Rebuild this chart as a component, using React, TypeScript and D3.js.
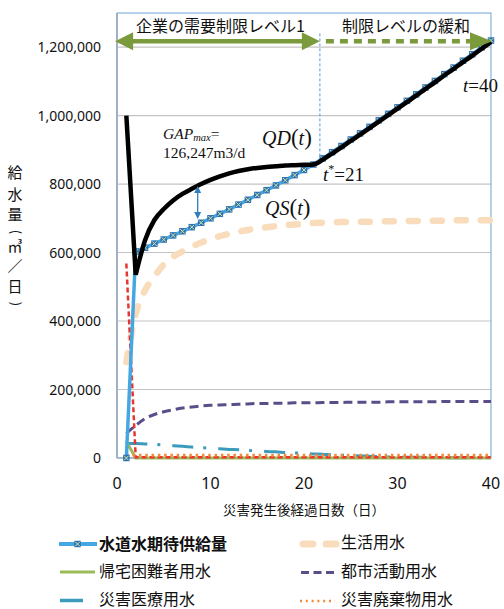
import React from "react";
import * as d3 from "d3";

// Elapsed days after the disaster (one value per day for every series)
const days = d3.range(1, 41);

// 水道水期待供給量 QS(t) [m3/day]
const expectedSupply = [
  0, 603000, 614000, 626000, 638000, 650000, 662000, 674000, 687000, 700000,
  713000, 726000, 740000, 754000, 768000, 782000, 796000, 811000, 826000, 841000,
  857000, 875000, 893000, 911000, 930000, 948000, 967000, 986000, 1005000, 1024000,
  1043000, 1062000, 1082000, 1101000, 1121000, 1140000, 1160000, 1179000, 1199000, 1219000,
];

// 需要量 QD(t) [m3/day]
const demand = [
  1000000, 535000, 636000, 695000, 727000, 752000, 771000, 786000, 800000, 812000,
  822000, 831000, 838000, 843000, 847000, 850000, 852000, 854000, 855000, 856000,
  857000, 871000, 889000, 907000, 926000, 944000, 963000, 982000, 1001000, 1020000,
  1039000, 1058000, 1078000, 1097000, 1117000, 1136000, 1156000, 1175000, 1195000, 1215000,
];

// 生活用水
const domesticUse = [
  280000, 420000, 490000, 530000, 565000, 588000, 603000, 617000, 629000, 640000,
  648000, 655000, 661000, 666000, 670000, 674000, 677000, 680000, 682000, 684000,
  686000, 687000, 688000, 689000, 689000, 690000, 690000, 691000, 691000, 692000,
  692000, 692000, 693000, 693000, 693000, 694000, 694000, 694000, 694000, 694000,
];

// 帰宅困難者用水
const strandedUse = [
  48000, 0, 0, 0, 0, 0, 0, 0, 0, 0,
  0, 0, 0, 0, 0, 0, 0, 0, 0, 0,
  0, 0, 0, 0, 0, 0, 0, 0, 0, 0,
  0, 0, 0, 0, 0, 0, 0, 0, 0, 0,
];

// 都市活動用水
const urbanUse = [
  72000, 95000, 115000, 127000, 135000, 141000, 146000, 149000, 152000, 154000,
  155000, 156000, 157000, 158000, 159000, 159000, 160000, 160000, 161000, 161000,
  161000, 162000, 162000, 162000, 163000, 163000, 163000, 163000, 164000, 164000,
  164000, 164000, 164000, 164000, 165000, 165000, 165000, 165000, 165000, 165000,
];

// 災害医療用水
const medicalUse = [
  42000, 42000, 41000, 40000, 38000, 36000, 34000, 32000, 30000, 29000,
  27000, 25000, 24000, 22000, 21000, 19000, 18000, 16000, 15000, 13000,
  12000, 11000, 9000, 8000, 7000, 6000, 5000, 4000, 3000, 3000,
  2000, 2000, 2000, 1000, 1000, 1000, 1000, 1000, 1000, 1000,
];

// 災害廃棄物用水
const debrisUse = [
  8000, 8000, 8000, 8000, 8000, 8000, 8000, 8000, 8000, 8000,
  8000, 8000, 8000, 8000, 8000, 8000, 8000, 8000, 8000, 8000,
  8000, 8000, 8000, 8000, 8000, 8000, 8000, 8000, 8000, 8000,
  8000, 8000, 8000, 8000, 8000, 8000, 8000, 8000, 8000, 8000,
];

// 初期の応急需要
const initialDemand = [
  568000, 2000, 2000, 2000, 2000, 2000, 2000, 2000, 2000, 2000,
  2000, 2000, 2000, 2000, 2000, 2000, 2000, 2000, 2000, 2000,
  2000, 2000, 2000, 2000, 2000, 2000, 2000, 2000, 2000, 2000,
  2000, 2000, 2000, 2000, 2000, 2000, 2000, 2000, 2000, 2000,
];

const yTicks = [0, 200000, 400000, 600000, 800000, 1000000, 1200000];
const xTicks = [0, 10, 20, 30, 40];

// Vertical axis title, one glyph per row; brackets are turned sideways
const yTitleChars = [
  { c: "給", y: 173, turn: false },
  { c: "水", y: 195, turn: false },
  { c: "量", y: 215, turn: false },
  { c: "(", y: 232, turn: true },
  { c: "㎥", y: 247, turn: false },
  { c: "／", y: 267, turn: false },
  { c: "日", y: 287, turn: false },
  { c: ")", y: 304, turn: true },
];
const xTitle = "災害発生後経過日数（日）";
const phase1Label = "企業の需要制限レベル1";
const phase2Label = "制限レベルの緩和";

// Annotation anchors in data units
const tStar = 21.7;
const arrowLevel = 1217000;
const gapDay = 8.63;
const gapTop = 794000;
const gapBottom = 698000;

const COLORS = {
  supply: "#45a7e2",
  marker: "#2f72b4",
  markerX: "#d6e7a0",
  demand: "#000000",
  domestic: "#f9dcbc",
  stranded: "#9bbb59",
  urban: "#5a4e8a",
  medical: "#3b9bbd",
  debris: "#f38a3a",
  initial: "#e8352f",
  olive: "#7b9a3c",
  gapArrow: "#2f7ebd",
};

const SERIF = "'Liberation Serif', 'Times New Roman', serif";
const SANS = "'Noto Sans', 'Noto Sans CJK JP', sans-serif";
const JP = "'Noto Sans CJK JP', 'Noto Sans', sans-serif";

export default function App() {
  const W = 504;
  const H = 609;
  const x = d3.scaleLinear().domain([0, 40]).range([117, 491]);
  const y = d3.scaleLinear().domain([0, 1300000]).range([458, 12.8]);
  const plotTop = 13;

  const mkLine = (curve: d3.CurveFactory, offset = 0) =>
    d3
      .line<number>()
      .x((_, i) => x(days[i + offset]))
      .y((d) => y(d))
      .curve(curve);

  const linear = mkLine(d3.curveLinear);
  const smooth = mkLine(d3.curveMonotoneX);

  // demand: sharp drop from day 1 to day 2, smooth recovery afterwards
  const demandPath =
    (mkLine(d3.curveLinear)(demand.slice(0, 2)) || "") +
    (mkLine(d3.curveMonotoneX, 1)(demand.slice(1)) || "").replace(/^M/, "L");

  const yA = y(arrowLevel);
  const xL = x(-0.2);
  const xM = x(tStar);
  const xR = x(40);
  const headLen = 18;
  const headHalf = 9;

  const marker = (cx: number, cy: number, key: string | number, s = 6.5) => (
    <g key={key}>
      <rect x={cx - s / 2} y={cy - s / 2} width={s} height={s} fill={COLORS.marker} />
      <line x1={cx - s / 2 + 1} y1={cy - s / 2 + 1} x2={cx + s / 2 - 1} y2={cy + s / 2 - 1} stroke={COLORS.markerX} strokeWidth={1} />
      <line x1={cx - s / 2 + 1} y1={cy + s / 2 - 1} x2={cx + s / 2 - 1} y2={cy - s / 2 + 1} stroke={COLORS.markerX} strokeWidth={1} />
    </g>
  );

  const gx = x(gapDay);
  const gy1 = y(gapTop);
  const gy2 = y(gapBottom);

  return (
    <svg
      width={W}
      height={H}
      viewBox={`0 0 ${W} ${H}`}
      style={{ position: "absolute", left: 0, top: 0, background: "#fff" }}
    >
      {/* gridlines */}
      {yTicks.filter((t) => t > 0).map((t) => (
        <line key={t} x1={x(0)} x2={x(40)} y1={y(t)} y2={y(t)} stroke="#c4c4c4" strokeWidth={1.2} />
      ))}

      {/* plot frame */}
      <rect x={x(0)} y={plotTop} width={x(40) - x(0)} height={y(0) - plotTop} fill="none" stroke="#6fa3d6" strokeWidth={1} />
      <line x1={x(0)} x2={x(0)} y1={plotTop} y2={y(0)} stroke="#9fb0c2" strokeWidth={2} />
      <line x1={x(0)} x2={x(40)} y1={y(0)} y2={y(0)} stroke="#9fb0c2" strokeWidth={1.5} />

      {/* y tick labels */}
      {yTicks.map((t) => (
        <text key={t} x={101} y={y(t)} dy="0.36em" textAnchor="end" fontFamily={SANS} fontSize={14} fill="#111">
          {d3.format(",")(t)}
        </text>
      ))}

      {/* x tick labels */}
      {xTicks.map((t) => (
        <text key={t} x={x(t)} y={489} textAnchor="middle" fontFamily={SANS} fontSize={16} fill="#111">
          {t}
        </text>
      ))}

      {/* axis titles */}
      <text x={(x(0) + x(40)) / 2} y={515} textAnchor="middle" fontFamily={JP} fontSize={13.5} fill="#111">
        {xTitle}
      </text>
      {yTitleChars.map((g, i) => (
        <text
          key={i}
          x={15}
          y={g.y}
          dy={g.turn ? "0.3em" : "0.36em"}
          textAnchor="middle"
          fontFamily={JP}
          fontSize={g.turn ? 13 : 15}
          fill="#111"
          transform={g.turn ? `rotate(90 15 ${g.y})` : undefined}
        >
          {g.c}
        </text>
      ))}

      {/* series */}
      <path d={smooth(domesticUse) || ""} fill="none" stroke={COLORS.domestic} strokeWidth={6.5} strokeDasharray="9 15" strokeLinecap="round" />
      <path d={smooth(urbanUse) || ""} fill="none" stroke={COLORS.urban} strokeWidth={3} strokeDasharray="9 5" />
      <path d={smooth(medicalUse) || ""} fill="none" stroke={COLORS.medical} strokeWidth={3} strokeDasharray="21 10 3 12" />
      <path d={linear(strandedUse) || ""} fill="none" stroke={COLORS.stranded} strokeWidth={3} />
      <path d={linear(initialDemand) || ""} fill="none" stroke={COLORS.initial} strokeWidth={2.5} strokeDasharray="5 3" />
      <path d={linear(debrisUse) || ""} fill="none" stroke={COLORS.debris} strokeWidth={3} strokeDasharray="2.5 3.8" />
      <path d={linear(expectedSupply) || ""} fill="none" stroke={COLORS.supply} strokeWidth={3.5} />
      {expectedSupply.map((v, i) => marker(x(days[i]), y(v), i))}
      <path d={demandPath} fill="none" stroke={COLORS.demand} strokeWidth={4.5} strokeLinejoin="miter" />

      {/* t* marker line */}
      <line x1={xM} x2={xM} y1={y(1240000)} y2={y(878000)} stroke="#5b9bd5" strokeWidth={1} strokeDasharray="3 2" />

      {/* phase arrows */}
      <line x1={xL + headLen - 1} x2={xM - headLen + 1} y1={yA} y2={yA} stroke={COLORS.olive} strokeWidth={4.5} />
      <path d={`M${xL},${yA} L${xL + headLen},${yA - headHalf} L${xL + headLen},${yA + headHalf} Z`} fill={COLORS.olive} />
      <path d={`M${xM},${yA} L${xM - headLen},${yA - headHalf} L${xM - headLen},${yA + headHalf} Z`} fill={COLORS.olive} />
      <line x1={xM + 6} x2={xR - headLen - 2} y1={yA} y2={yA} stroke={COLORS.olive} strokeWidth={4.5} strokeDasharray="8 6" />
      <path d={`M${xR + 1},${yA} L${xR - headLen - 3},${yA - headHalf} L${xR - headLen - 3},${yA + headHalf} Z`} fill={COLORS.olive} />
      <text x={(xL + xM) / 2 + 3} y={32} textAnchor="middle" fontFamily={JP} fontSize={16} fill="#111">
        {phase1Label}
      </text>
      <text x={406} y={32} textAnchor="middle" fontFamily={JP} fontSize={16} fill="#111">
        {phase2Label}
      </text>

      {/* GAP arrow */}
      <line x1={gx} x2={gx} y1={gy1 + 5} y2={gy2 - 5} stroke={COLORS.gapArrow} strokeWidth={1.3} />
      <path d={`M${gx},${gy1} L${gx - 3.5},${gy1 + 7} L${gx + 3.5},${gy1 + 7} Z`} fill={COLORS.gapArrow} />
      <path d={`M${gx},${gy2} L${gx - 3.5},${gy2 - 7} L${gx + 3.5},${gy2 - 7} Z`} fill={COLORS.gapArrow} />

      {/* annotations */}
      <text x={163} y={138.5} fontFamily={SERIF} fontSize={15.5} fill="#111">
        <tspan fontStyle="italic">GAP</tspan>
        <tspan fontStyle="italic" fontSize={10.5} dy={2.5}>max</tspan>
        <tspan dy={-2.5}>=</tspan>
      </text>
      <text x={163} y={158} fontFamily={SERIF} fontSize={15.5} fill="#111">
        126,247m3/d
      </text>

      <text x={262} y={145} fontFamily={SERIF} fontSize={20} fill="#111">
        <tspan fontStyle="italic">QD</tspan>
        <tspan fontSize={23}>(</tspan>
        <tspan fontStyle="italic">t</tspan>
        <tspan fontSize={23}>)</tspan>
      </text>
      <text x={265} y={215} fontFamily={SERIF} fontSize={20} fill="#111">
        <tspan fontStyle="italic">QS</tspan>
        <tspan fontSize={23}>(</tspan>
        <tspan fontStyle="italic">t</tspan>
        <tspan fontSize={23}>)</tspan>
      </text>
      <text x={323} y={181} fontFamily={SERIF} fontSize={19} fill="#111">
        <tspan fontStyle="italic">t</tspan>
        <tspan fontSize={12} dy={-8}>*</tspan>
        <tspan dy={8}>=21</tspan>
      </text>
      <text x={463} y={92} fontFamily={SERIF} fontSize={19} fill="#111">
        <tspan fontStyle="italic">t</tspan>
        <tspan>=40</tspan>
      </text>

      {/* legend */}
      <g fontFamily={JP} fontSize={16} fill="#111">
        <line x1={59} x2={97} y1={544} y2={544} stroke={COLORS.supply} strokeWidth={4} />
        {marker(77.5, 544, "lg")}
        <text x={99} y={544} dy="0.36em" fontWeight="bold">水道水期待供給量</text>

        <line x1={60} x2={95} y1={572} y2={572} stroke={COLORS.stranded} strokeWidth={3} />
        <text x={99} y={571} dy="0.36em">帰宅困難者用水</text>

        <line x1={60} x2={83} y1={600.5} y2={600.5} stroke={COLORS.medical} strokeWidth={3.5} />
        <text x={99} y={599} dy="0.36em">災害医療用水</text>

        <line x1={303} x2={336} y1={544} y2={544} stroke={COLORS.domestic} strokeWidth={7} strokeDasharray="10 13" strokeLinecap="round" />
        <text x={341} y={542.5} dy="0.36em">生活用水</text>

        <line x1={301} x2={334} y1={572.5} y2={572.5} stroke={COLORS.urban} strokeWidth={3} strokeDasharray="8 4.5" />
        <text x={341} y={571} dy="0.36em">都市活動用水</text>

        <line x1={300} x2={335} y1={601} y2={601} stroke={COLORS.debris} strokeWidth={2.5} strokeDasharray="2 3.8" />
        <text x={341} y={599} dy="0.36em">災害廃棄物用水</text>
      </g>
    </svg>
  );
}
